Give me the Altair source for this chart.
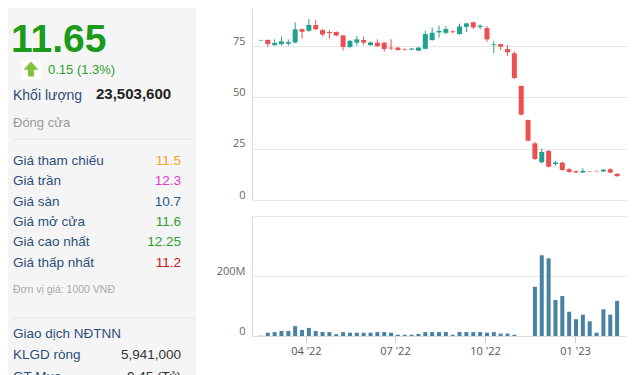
import altair as alt
import pandas as pd

# ---------------- data ----------------
WEEKS = pd.date_range("2022-02-14", periods=53, freq="7D").strftime("%Y-%m-%d").tolist()
OPEN = [77.8, 78, 75.5, 76, 76.2, 76.8, 83.3, 82.5, 85.3, 82.8, 81.9, 81.9, 80.2, 74.6, 76.7, 78, 75.5, 76.7,
        76.7, 74.3, 74.3, 73.5, 73.3, 72.8, 73.7, 78, 81.7, 81.5, 82.2, 80.9, 84.4, 86.6, 84.3, 83.8, 75.5, 76,
        73.6, 71.5, 55.6, 39, 27.6, 18.4, 23.9, 17.5, 18.2, 15, 14, 13.4, 14.1, 14.2, 13.9, 15, 12.8]
HIGH = [78.2, 78.3, 78.3, 79.6, 78.3, 86.6, 83.5, 88.2, 87.7, 83.3, 82.8, 82.2, 80.5, 78, 80, 79.6, 77.3, 78.3,
        77, 78.4, 74.6, 73.9, 74.2, 74.5, 82.5, 84, 85, 84.7, 82.8, 86, 86.3, 87, 85.6, 84.8, 77.6, 76.2,
        75.5, 72.5, 55.8, 39.2, 28.3, 25, 24.4, 19.2, 18.7, 15.7, 14.6, 15.5, 14.2, 14.3, 15, 15.5, 13]
LOW = [77.6, 74.7, 75.2, 75.2, 75.2, 76.3, 78.8, 82, 83, 79.8, 78.8, 79.8, 72.8, 73.9, 75.2, 75.5, 75.2, 74.7,
       72.3, 73.1, 72.8, 72.9, 73.1, 72.6, 73.4, 77.6, 79.2, 80.7, 81.3, 80.6, 81.8, 83.2, 83.2, 77.1, 71.5, 73.1,
       70.3, 59, 41.2, 28.6, 19.5, 17.9, 15.9, 16.7, 14.3, 13.2, 13.1, 13.3, 13.8, 13.9, 13.7, 13.1, 11.4]
CLOSE = [78, 76, 76.5, 77.3, 77, 83.2, 82, 85.3, 83.3, 80.7, 81.4, 80.2, 74.6, 77.6, 78.3, 76.7, 76.8, 75,
         73.6, 73.9, 73.1, 73.2, 73.8, 74.3, 80.9, 81.5, 82.4, 83.3, 81.8, 84.6, 86.1, 84.1, 85, 78.3, 75.9, 74.7,
         72, 59.5, 41.6, 28.9, 20, 23.4, 16.2, 18.3, 14.6, 13.7, 13.4, 14.2, 13.9, 14, 14.8, 13.4, 11.6]
VOLUME_M = [1, 11, 13, 17, 17, 33, 20, 27, 17, 13, 13, 6, 13, 11, 11, 11, 11, 13, 13, 11, 4, 4, 4, 7,
            13, 13, 13, 13, 4, 13, 13, 13, 13, 11, 13, 8, 8, 4, 0, 0, 164, 269, 259, 120, 133, 81, 56, 71,
            49, 11, 89, 71, 117]

PRICE = "11.65"
CHANGE = "0.15 (1.3%)"
VOL_LABEL = "Khối lượng"
VOL_VALUE = "23,503,600"
CLOSE_LABEL = "Đóng cửa"
ROW_LABELS = ["Giá tham chiếu", "Giá trần", "Giá sàn", "Giá mở cửa", "Giá cao nhất", "Giá thấp nhất"]
ROW_VALUES = ["11.5", "12.3", "10.7", "11.6", "12.25", "11.2"]
UNIT_NOTE = "Đơn vị giá: 1000 VNĐ"
FOREIGN_TITLE = "Giao dịch NĐTNN"
FOREIGN_LABELS = ["KLGD ròng", "GT Mua"]
FOREIGN_VALUES = ["5,941,000", "9.45 (Tỷ)"]

Y_TICKS = [0, 25, 50, 75]
VOL_TICKS = [0, 200e6, 400e6]
X_TICKS = [(2022, 4), (2022, 7), (2022, 10), (2023, 1)]

# ---------------- styles ----------------
ROW_COLORS = ["#f5a31d", "#e03ad6", "#1f5a8a", "#2f9e2f", "#2f9e2f", "#c8161d"]
UP = "#22a08f"
DOWN = "#ec4f4f"
VOLC = "#4682a3"
FONT = "Liberation Sans"
NAVY = "#2d4e7c"

candles = pd.DataFrame({"date": WEEKS, "open": OPEN, "high": HIGH, "low": LOW, "close": CLOSE})
volumes = pd.DataFrame({"date": WEEKS, "volume": [v * 1e6 for v in VOLUME_M]})

xscale = alt.Scale(type="utc", nice=False, domain=[alt.DateTime(year=2022, month=2, date=10, utc=True),
                                                   alt.DateTime(year=2023, month=2, date=18, utc=True)])

color_rule = alt.when(alt.datum.close >= alt.datum.open).then(alt.value(UP)).otherwise(alt.value(DOWN))

ycandle = alt.Scale(domain=[0, 93.6], nice=False, zero=False)
yaxis = alt.Axis(values=Y_TICKS, ticks=False, labelPadding=7, labelBaseline="alphabetic", labelOffset=-2,
                 grid=True, domain=True)

base = alt.Chart(candles).encode(x=alt.X("date:T", scale=xscale, axis=None, title=None))
wick = base.mark_rule(strokeWidth=1).encode(
    y=alt.Y("low:Q", scale=ycandle, axis=yaxis, title=None), y2="high:Q", color=color_rule)
body = base.mark_bar(size=5).encode(
    y=alt.Y("open:Q", title=None), y2="close:Q", color=color_rule)
candle_chart = alt.layer(wick, body).properties(width=375, height=192)

vol_chart = alt.Chart(volumes).mark_bar(size=4, color=VOLC).encode(
    x=alt.X("date:T", scale=xscale, title=None,
            axis=alt.Axis(values=[alt.DateTime(year=y, month=m, date=1, utc=True) for y, m in X_TICKS],
                          format="%m '%y", ticks=True, tickSize=6, labelPadding=3, grid=False,
                          labelColor="#555")),
    y=alt.Y("volume:Q", scale=alt.Scale(domain=[0, 4e8], nice=False), title=None,
            axis=alt.Axis(values=VOL_TICKS,
                          labelExpr="datum.value > 3e8 ? '' : (datum.value == 0 ? '0' : format(datum.value / 1e6, 'd') + 'M')",
                          ticks=False, labelPadding=7, labelBaseline="alphabetic", labelOffset=-2)),
).properties(width=375, height=120)

right = alt.vconcat(candle_chart, vol_chart, spacing=16, bounds="flush")


def txt(text, x, y, size, color, weight="normal", align="left"):
    return alt.Chart(pd.DataFrame({"t": [text]})).mark_text(
        align=align, baseline="alphabetic", font=FONT, fontSize=size, fontWeight=weight,
        color=color, clip=True).encode(text="t:N", x=alt.value(x), y=alt.value(y))


def sep(y):
    return alt.Chart(pd.DataFrame({"s": [0]})).mark_rule(color="#e4e4e4", strokeWidth=1).encode(
        x=alt.value(5), x2=alt.value(188), y=alt.value(y))


rows = pd.DataFrame({"i": list(range(len(ROW_LABELS))), "label": ROW_LABELS, "value": ROW_VALUES,
                     "c": ROW_COLORS})
row_y = alt.Y("i:O", scale=alt.Scale(type="point", range=[157, 258.5], padding=0), axis=None)
row_labels = alt.Chart(rows).mark_text(align="left", baseline="alphabetic", font=FONT, fontSize=13.5,
                                       color=NAVY).encode(text="label:N", x=alt.value(5), y=row_y)
row_values = alt.Chart(rows).mark_text(align="right", baseline="alphabetic", font=FONT, fontSize=13.5).encode(
    text="value:N", x=alt.value(173), y=row_y, color=alt.Color("c:N", scale=None))

arrow_bg = alt.Chart(pd.DataFrame({"a": [0]})).mark_square(size=361, color="white", opacity=1).encode(
    x=alt.value(23), y=alt.value(62))
arrow = alt.Chart(pd.DataFrame({"a": [0]})).mark_point(
    shape="M0,-1L1,0.1L0.4,0.1L0.4,1L-0.4,1L-0.4,0.1L-1,0.1Z", filled=True, size=230,
    color="#84c23c", opacity=1).encode(x=alt.value(23), y=alt.value(61))

left = alt.layer(
    txt(PRICE, 3, 44, 39, "#1a9c1a", "bold"),
    arrow_bg, arrow,
    txt(CHANGE, 40, 66, 13, "#2e9e2e"),
    txt(VOL_LABEL, 5, 92, 14, NAVY),
    txt(VOL_VALUE, 88, 91, 15, "#222222", "bold"),
    txt(CLOSE_LABEL, 5, 119, 13, "#999999"),
    sep(131),
    row_labels, row_values,
    txt(UNIT_NOTE, 5, 285, 10.5, "#aaaaaa"),
    sep(310),
    txt(FOREIGN_TITLE, 5, 330, 13.5, NAVY),
    txt(FOREIGN_LABELS[0], 5, 351, 13.5, NAVY),
    txt(FOREIGN_VALUES[0], 173, 351, 13.5, "#333333", align="right"),
    txt(FOREIGN_LABELS[1], 5, 373, 13.5, NAVY),
    txt(FOREIGN_VALUES[1], 173, 373, 13.5, "#333333", align="right"),
).properties(width=188, height=367, view=alt.ViewBackground(fill="#f5f5f5", stroke=None))

chart = alt.hconcat(left, right, spacing=56, bounds="flush").properties(
    padding=0, background="white"
).configure_view(
    stroke=None
).configure_axis(
    labelFont="Open Sans", labelFontSize=11, labelColor="#666666", gridColor="#e8e8e8",
    domainColor="#d9dce3", tickColor="#cccccc"
)

chart.save("out.html", embed_options={"renderer": "svg", "actions": False})
